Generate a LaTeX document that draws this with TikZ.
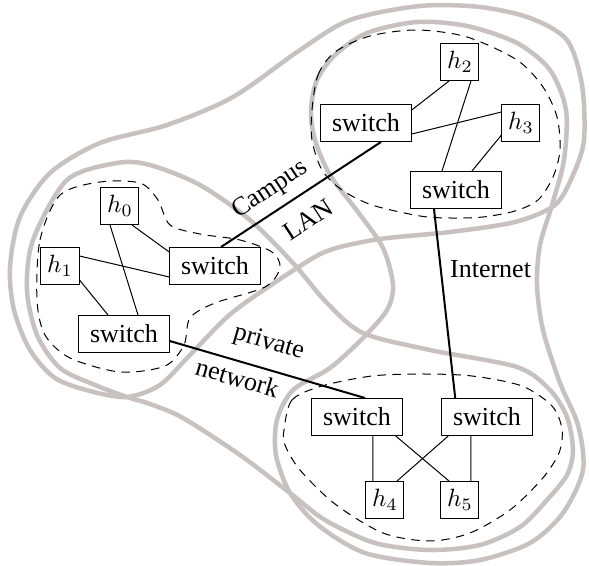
\documentclass[tikz,border=0pt]{standalone}
\usepackage{fontspec}
\setmainfont{Liberation Serif}
\usepackage{tikz}
\definecolor{regiongray}{RGB}{199,194,191}

\begin{document}
\begin{tikzpicture}[x=0.4pt,y=-0.4pt,
  every node/.style={font=\fontsize{10.4}{12.5}\selectfont},
  sw/.style={draw,thin,fill=white,minimum width=36.2pt,minimum height=14.8pt,inner sep=0pt},
  host/.style={draw,thin,fill=white,minimum width=15.2pt,minimum height=14.8pt,inner sep=0pt},
  region/.style={draw=regiongray,line width=1.8pt},
  subnet/.style={thin,dash pattern=on 3.4pt off 2.6pt},
  link/.style={thick}]
\useasboundingbox (0,0) rectangle (589,566);
% regions
\draw[region] plot[smooth cycle] coordinates {(127,397) (90,391) (55,378) (30,350) (14,310) (10,267) (20,217) (50,173) (100,143) (167,125) (233,97) (300,50) (350,20) (420,6) (480,7) (530,18) (567,40) (582,85) (584,140) (573,175) (555,205) (515,222) (450,232) (380,239) (330,250) (297,268) (233,312) (190,355) (160,385)};
\draw[region] plot[smooth cycle] coordinates {(311,110) (317,80) (335,55) (367,33) (417,22) (467,26) (517,43) (550,70) (566,110) (564,160) (552,205) (540,245) (537,285) (543,330) (560,383) (578,425) (583,470) (563,513) (530,543) (480,560) (430,563) (365,553) (318,525) (290,493) (276,455) (277,420) (293,390) (330,368) (363,338) (387,310) (393,285) (383,248) (358,212) (330,175) (315,140)};
\draw[region] plot[smooth cycle] coordinates {(27,290) (33,240) (67,180) (117,163) (150,165) (200,185) (250,220) (293,263) (327,303) (363,333) (430,350) (517,367) (550,390) (567,417) (573,450) (567,475) (547,500) (520,527) (480,545) (430,550) (375,543) (325,520) (290,493) (240,455) (183,418) (150,404) (127,397) (95,385) (60,368) (37,335)};
% subnets
\draw[subnet] plot[smooth cycle] coordinates {(37,300) (40,240) (60,195) (100,182) (140,183) (158,200) (170,225) (200,234) (240,240) (272,252) (280,268) (265,287) (215,303) (190,318) (184,345) (165,366) (120,372) (70,358) (45,335)};
\draw[subnet] plot[smooth cycle] coordinates {(312,110) (318,75) (335,52) (370,36) (417,30) (467,37) (517,60) (543,87) (557,117) (560,150) (553,177) (538,200) (515,211) (483,217) (450,218) (420,216) (372,205) (342,190) (322,170) (312,140)};
\draw[subnet] plot[smooth cycle] coordinates {(284,430) (292,400) (322,386) (372,376) (422,374) (472,376) (522,386) (552,406) (562,429) (559,453) (542,479) (510,510) (470,533) (430,541) (383,533) (335,504) (300,470) (285,445)};
% nodes
\node[host] (h0) at (120,206) {$h_0$};
\node[host] (h1) at (60,266) {$h_1$};
\node[sw] (s1) at (215,266) {switch};
\node[sw] (s2) at (124,334) {switch};
\node[host] (h2) at (460,62) {$h_2$};
\node[sw] (s3) at (366,123) {switch};
\node[host] (h3) at (521,123) {$h_3$};
\node[sw] (s4) at (456,190) {switch};
\node[sw] (s5) at (357,417) {switch};
\node[sw] (s6) at (487,417) {switch};
\node[host] (h4) at (385,500) {$h_4$};
\node[host] (h5) at (460,500) {$h_5$};
% local links
\draw[thin] ([xshift=4.8pt]h0.south) -- ([yshift=5.6pt]s1.west);
\draw[thin] ([yshift=4pt]h1.east) -- ([yshift=-4.4pt]s1.west);
\draw[thin] ([yshift=2pt]h1.south east) -- ([xshift=-6.4pt]s2.north);
\draw[thin] ([xshift=-4pt]h0.south) -- ([xshift=5.6pt]s2.north);
\draw[thin] ([yshift=5.2pt]s3.east) -- ([xshift=-4.4pt]h2.south);
\draw[thin] ([xshift=4.4pt]h2.south) -- ([xshift=-5.6pt]s4.north);
\draw[thin] ([yshift=-4.4pt]s3.east) -- ([yshift=4.4pt]h3.west);
\draw[thin] ([yshift=2.8pt]h3.south west) -- ([xshift=6.4pt]s4.north);
\draw[thin] ([xshift=6.4pt]s5.south) -- ([xshift=-4.8pt]h4.north);
\draw[thin] ([xshift=15.5pt]s5.south) -- ([xshift=-4.4pt]h5.north);
\draw[thin] ([xshift=-15.5pt]s6.south) -- ([xshift=4.8pt]h4.north);
\draw[thin] ([xshift=-6.4pt]s6.south) -- ([xshift=4.4pt]h5.north);
% long links
\draw[link] ([xshift=2.4pt]s1.north) -- node[pos=0.38,sloped,above]{Campus} node[pos=0.46,sloped,below,inner sep=6pt]{LAN} ([xshift=6pt]s3.south);
\draw[link] ([xshift=-8.8pt]s4.south) -- node[pos=0.32,right]{Internet} ([xshift=-12.7pt]s6.north);
\draw[link] ([yshift=-2.8pt]s2.east) -- node[pos=0.47,sloped,above,inner sep=5.2pt]{private} node[pos=0.37,sloped,below,inner sep=2.4pt]{network} ([xshift=3.2pt]s5.north);
\end{tikzpicture}
\end{document}
